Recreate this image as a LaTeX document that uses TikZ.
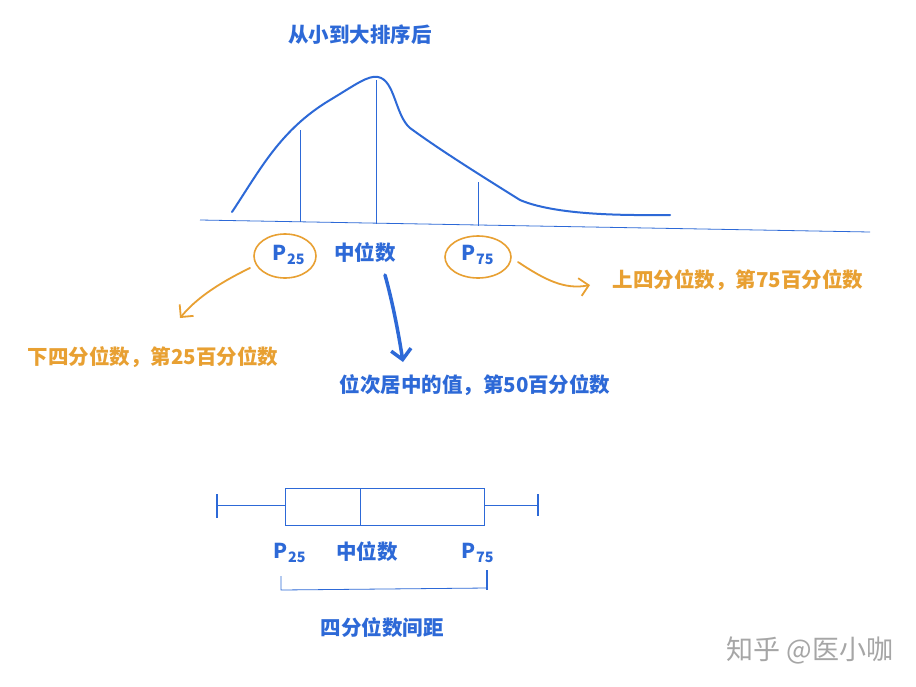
\documentclass[tikz,border=0pt]{standalone}
\usepackage{fontspec}
\setmainfont{Noto Sans CJK SC}
\usetikzlibrary{arrows.meta}
\definecolor{bl}{RGB}{45,105,215}
\definecolor{og}{RGB}{232,160,50}
\tikzset{
 lbl/.style={text=bl,font=\fontsize{20.5}{24}\selectfont\bfseries},
 olbl/.style={text=og,font=\fontsize{20.5}{24}\selectfont\bfseries},
 thin/.style={draw=bl,line width=0.8pt},
 oline/.style={draw=og,line width=1.8pt,line cap=round}
}
\begin{document}
\begin{tikzpicture}[x=1pt,y=-1pt]
\useasboundingbox[fill=white] (0,0) rectangle (916,686);
\node[lbl] (title) at (360,35) {从小到大排序后};
% curve
\draw[bl,line width=2pt,line cap=round] (232,212) .. controls (260,170) and (280,130) .. (330,100) .. controls (355,85) and (368,75) .. (378,77) .. controls (395,80) and (395,115) .. (410,128) .. controls (440,150) and (480,175) .. (520,200) .. controls (560,217) and (640,215) .. (670,215);
\draw[thin] (200,220) -- (870,232);
\draw[thin] (300,130) -- (300,222);
\draw[thin] (376,80) -- (376,224);
\draw[thin] (478,182) -- (478,226);
% labels
\node[lbl] (p25) at (289,255) {P\textsubscript{25}};
\draw[og,line width=1.6pt] (285,256) ellipse (31 and 22);
\node[lbl] (med) at (365,253) {中位数};
\node[lbl] (p75) at (478,255) {P\textsubscript{75}};
\draw[og,line width=1.6pt] (478,257) ellipse (33 and 21);
\node[olbl] (lq) at (153,357) {下四分位数，第25百分位数};
\node[lbl] (mt) at (475,385) {位次居中的值，第50百分位数};
\node[olbl] (uq) at (738,280) {上四分位数，第75百分位数};
\coordinate (a1) at (250,268);
\coordinate (a2) at (180,318);
\draw[oline,-{Straight Barb[length=9pt,line width=1.8pt]}] (a1) .. controls (215,285) and (195,300) .. (a2);
\coordinate (b1) at (518,262);
\coordinate (b2) at (590,285);
\draw[oline,-{Straight Barb[length=9pt,line width=1.8pt]}] (b1) .. controls (545,280) and (565,290) .. (b2);
\coordinate (c1) at (385,275);
\coordinate (c2) at (403,362);
\draw[bl,line width=3.5pt,line cap=round,-{Straight Barb[length=10pt]}] (c1) .. controls (392,300) and (398,330) .. (c2);
% boxplot
\draw[thin] (217,505) -- (285,505);
\draw[bl,line width=2pt] (217,494) -- (217,518);
\draw[thin] (285,488) rectangle (484,525);
\draw[thin] (360,488) -- (360,525);
\draw[thin] (484,505) -- (538,505);
\draw[bl,line width=2pt] (538,494) -- (538,516);
\node[lbl] (bp25) at (290,553) {P\textsubscript{25}};
\node[lbl] (bmed) at (367,552) {中位数};
\node[lbl] (bp75) at (478,553) {P\textsubscript{75}};
\draw[thin] (281,576) -- (281,590) -- (487,588);
\draw[bl,line width=1.6pt] (487,570) -- (487,590);
\node[lbl] (iqr) at (382,628) {四分位数间距};
\node[text=gray!70,font=\fontsize{27}{30}\selectfont] (wm) at (810,650) {知乎 @医小咖};
\end{tikzpicture}
\end{document}
